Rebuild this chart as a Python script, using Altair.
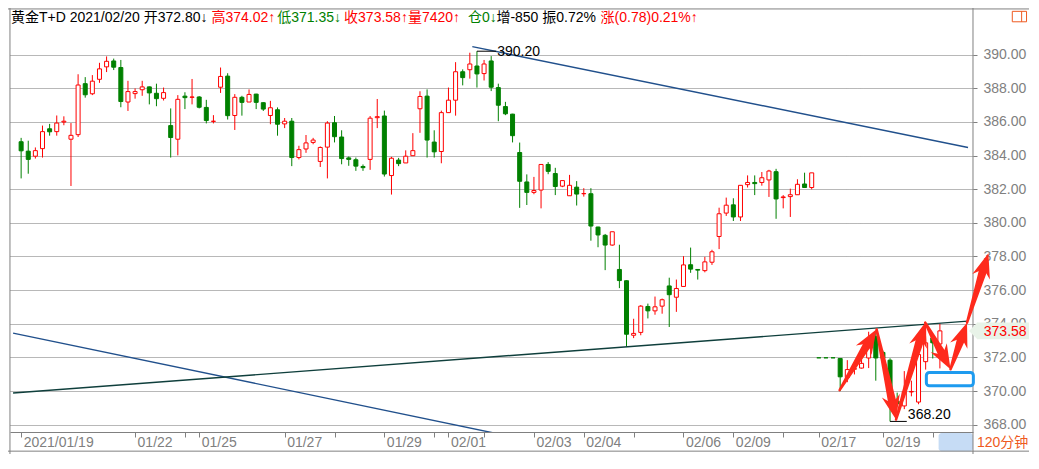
import math
import altair as alt
import pandas as pd
import numpy as np

# ---------------- data (120-minute candles, index 0..129) ----------------
opens = [384.82, 384.26, 383.96, 384.41, 385.59, 385.42, 385.99, 384.97, 385.24, 388.27,
         387.67, 388.53, 389.27, 389.62, 389.23, 387.18, 387.68, 387.91, 388.08, 387.70,
         387.40, 385.78, 384.97, 387.53, 387.46, 387.48, 386.86, 386.03, 388.06, 388.72,
         386.38, 387.46, 387.18, 387.65, 387.14, 386.38, 386.72, 385.88, 386.04, 383.88,
         384.39, 384.78, 383.65, 384.50, 385.95, 385.10, 383.86, 383.75, 383.35, 383.77,
         386.25, 386.35, 382.81, 383.73, 383.56, 383.99, 386.78, 387.53, 384.80, 384.24,
         386.55, 387.29, 388.98, 389.10, 389.32, 388.87, 389.62, 388.04, 386.91, 386.46,
         384.18, 382.43, 381.81, 381.95, 383.47, 382.93, 382.18, 381.61, 382.12, 381.73,
         381.73, 379.75, 379.26, 378.68, 377.23, 376.56, 373.32, 373.49, 375.03, 374.77,
         375.05, 376.25, 375.58, 376.22, 377.51, 377.23, 377.16, 377.66, 379.19, 380.58,
         381.07, 380.35, 382.27, 382.40, 382.40, 382.55, 383.04, 381.50, 381.56, 381.67,
         382.31, 382.10, 371.98, 371.98, 371.98, 371.94, 370.81, 371.30, 371.37, 371.97,
         373.25, 372.30, 371.84, 369.40, 369.12, 369.95, 369.35, 371.75, 373.16, 372.80]
highs = [385.05, 384.88, 384.48, 385.78, 385.88, 386.38, 386.33, 385.93, 388.83, 388.66,
         388.78, 389.51, 389.89, 389.76, 389.68, 388.44, 387.99, 388.44, 388.10, 388.27,
         388.04, 386.80, 387.59, 387.76, 388.55, 387.53, 387.31, 386.40, 389.23, 388.89,
         387.65, 387.55, 387.93, 387.67, 387.16, 387.25, 386.86, 386.23, 386.23, 384.58,
         385.22, 385.05, 384.54, 386.04, 386.35, 385.50, 383.94, 383.88, 383.47, 386.35,
         387.36, 386.67, 383.92, 383.86, 384.31, 385.33, 387.82, 387.93, 385.50, 386.67,
         388.04, 389.55, 389.12, 390.11, 390.20, 389.68, 389.91, 388.27, 387.19, 386.48,
         384.77, 382.88, 382.73, 383.47, 383.61, 383.27, 382.51, 382.85, 382.48, 382.06,
         382.06, 379.77, 379.34, 379.47, 378.70, 376.58, 374.30, 375.11, 375.20, 375.62,
         375.50, 376.74, 376.63, 378.02, 378.53, 377.25, 377.98, 378.40, 380.90, 381.50,
         381.46, 382.23, 382.82, 382.82, 383.02, 383.15, 383.21, 381.65, 382.03, 382.59,
         382.98, 382.97, 371.98, 371.98, 371.98, 371.94, 371.84, 371.47, 371.88, 373.53,
         373.55, 372.40, 371.95, 369.91, 371.19, 370.62, 372.50, 373.95, 373.30, 374.02]
lows = [382.64, 382.92, 383.82, 383.88, 385.18, 385.18, 385.80, 382.19, 385.10, 387.44,
        387.59, 388.32, 388.96, 389.08, 386.87, 386.65, 387.38, 387.55, 387.04, 386.93,
        387.27, 383.88, 384.01, 386.76, 387.04, 386.80, 385.91, 385.91, 387.72, 386.14,
        385.52, 386.37, 387.18, 386.76, 386.65, 385.86, 385.18, 385.63, 383.37, 383.77,
        384.16, 384.67, 383.32, 382.64, 384.78, 383.48, 383.39, 383.09, 383.09, 383.15,
        385.63, 382.75, 381.68, 383.37, 383.56, 383.99, 385.35, 383.88, 383.88, 383.54,
        386.55, 386.37, 388.17, 388.57, 388.04, 388.46, 387.83, 386.04, 386.40, 384.78,
        380.89, 381.06, 381.70, 380.86, 382.89, 381.65, 382.12, 381.61, 381.03, 381.56,
        378.94, 378.55, 377.19, 378.64, 376.12, 372.63, 373.15, 373.32, 374.32, 374.54,
        374.60, 373.81, 374.71, 376.22, 377.03, 376.63, 377.06, 377.50, 378.44, 380.41,
        380.11, 380.11, 382.10, 381.65, 382.21, 381.54, 380.24, 380.86, 380.35, 381.67,
        382.10, 381.99, 371.98, 371.98, 371.98, 370.00, 370.53, 370.99, 371.34, 371.37,
        370.62, 371.60, 368.20, 369.10, 368.93, 369.69, 369.22, 371.28, 371.94, 371.35]
closes = [384.28, 383.77, 384.29, 385.42, 385.41, 385.93, 386.04, 385.20, 388.19, 387.61,
          388.42, 389.15, 389.60, 389.25, 387.21, 387.80, 387.80, 388.08, 387.72, 387.38,
          387.74, 385.07, 387.34, 387.44, 387.48, 386.87, 386.08, 386.04, 388.70, 386.37,
          387.46, 387.16, 387.63, 387.16, 386.76, 386.84, 385.86, 386.04, 383.88, 384.35,
          384.75, 384.92, 384.48, 385.93, 385.12, 383.82, 383.77, 383.37, 383.28, 386.22,
          386.31, 382.90, 383.84, 383.52, 383.96, 384.29, 387.51, 384.92, 384.22, 386.55,
          387.29, 388.98, 388.63, 389.44, 388.85, 389.44, 388.06, 386.99, 386.48, 385.18,
          382.47, 381.81, 381.92, 383.47, 383.06, 382.16, 382.51, 382.23, 381.71, 381.74,
          379.81, 379.28, 378.68, 379.47, 376.57, 373.38, 373.43, 375.05, 374.77, 375.01,
          375.43, 375.73, 376.10, 377.50, 377.25, 377.19, 377.68, 378.28, 380.54, 381.05,
          380.35, 382.23, 382.40, 382.33, 382.68, 383.08, 381.42, 381.54, 381.67, 382.29,
          382.10, 382.97, 371.98, 371.98, 371.98, 370.85, 371.28, 371.34, 371.65, 372.59,
          371.97, 371.95, 369.70, 369.25, 369.97, 369.98, 372.18, 372.87, 372.87, 373.58]

x_tick_index = [0, 16, 23, 25, 37, 44, 51, 58, 60, 65, 72, 79, 86, 93, 100, 107, 112, 121, 128, 130]
x_tick_labels = ["2021/01/19", "01/22", "", "01/25", "01/27", "", "01/29", "", "02/01", "",
                 "02/03", "02/04", "", "02/06", "02/09", "", "02/17", "02/19", "", ""]
y_tick_values = [368, 370, 372, 374, 376, 378, 380, 382, 384, 386, 388, 390]

trend_upper_idx = [63.35, 132.95]
trend_upper_price = [390.47, 384.48]
trend_lower_idx = [-1.13, 66.18]
trend_lower_price = [373.45, 367.53]
trend_support_idx = [-1.13, 132.90]
trend_support_price = [369.89, 374.16]

arrow_idx = [114.92, 120.11, 122.84, 126.94, 130.49, 132.81, 135.81]
arrow_price = [370.06, 373.67, 368.31, 374.07, 371.30, 374.07, 378.19]

box_idx = [127.1, 133.7]
box_price = [370.32, 371.11]

high_mark_idx = [64.0, 66.7]
high_mark_value = 390.20
low_mark_idx = [122.0, 124.35]
low_mark_value = 368.20

header_parts = ["黄金T+D 2021/02/20 开372.80↓", "高374.02↑", "低371.35↓", "收373.58↑",
                "量7420↑", "仓0↓", "增-850 振0.72%", "涨(0.78)0.21%↑"]
period_label = "120分钟"

# ---------------- layout / style ----------------
FONT = "Liberation Sans, Arial, Noto Sans CJK SC, sans-serif"
RED = "#ff0000"
GREEN = "#008000"
GRAY = "#808080"
ARROW_RED = "#fe2a1c"
NAVY = "#21508c"
TEAL = "#0f3f3c"
ORANGE = "#ee5a20"

REF_W, REF_H = 1039, 469
TOT_W, TOT_H = 1021, 446
SX, SY = TOT_W / REF_W, TOT_H / REF_H
PL, PT = 2, 19
PLOT_W, PLOT_H = 963, 405
PR = TOT_W - PL - PLOT_W
PB = TOT_H - PT - PLOT_H

XMIN, XMAX = (2 - 8.3) / 7.324, (982 - 8.3) / 7.324
YMAX, YMIN = 390 + (49 - 20) / 17.70, 390 - (446 - 49) / 17.70

header_x = [3, 207, 274, 342, 407, 468, 497, 603]
header_colors = ["#000000", RED, GREEN, RED, RED, GREEN, "#000000", RED]


def px(xr):
    return xr * SX - PL


def py(yr):
    return yr * SY - PT


def X(i):
    return (i - XMIN) / (XMAX - XMIN) * PLOT_W


def Y(v):
    return (YMAX - v) / (YMAX - YMIN) * PLOT_H


def Xi(p):
    return XMIN + p / PLOT_W * (XMAX - XMIN)


def Yi(p):
    return YMAX - p / PLOT_H * (YMAX - YMIN)


xs = alt.Scale(domain=[XMIN, XMAX], nice=False, zero=False)
ys = alt.Scale(domain=[YMIN, YMAX], nice=False, zero=False)
one = pd.DataFrame({"d": [0]})

# ---------------- tables ----------------
df = pd.DataFrame({"i": np.arange(len(opens)), "open": opens, "high": highs,
                   "low": lows, "close": closes})
up = df["close"] > df["open"]
df["col"] = np.where(up, RED, GREEN)
df["fillc"] = np.where(up, "#ffffff", GREEN)

expr = "''"
for idx, lab in reversed(list(zip(x_tick_index, x_tick_labels))):
    expr = f"datum.value === {idx} ? '{lab}' : ({expr})"

x_axis = alt.Axis(values=x_tick_index, labelExpr=expr, title=None, grid=False,
                  domain=True, domainColor=GRAY, domainWidth=1,
                  ticks=True, tickColor=GRAY, tickSize=5, tickWidth=1,
                  labelColor=GRAY, labelFont=FONT, labelFontSize=14,
                  labelAlign="left", labelBaseline="middle", labelPadding=5.5,
                  labelOffset=2, labelOverlap=False, labelFlush=False,
                  labelBound=False, zindex=0)
y_axis = alt.Axis(orient="right", values=y_tick_values, format=".2f", title=None,
                  grid=True, gridColor="#707070", gridDash=[1, 1], gridWidth=1,
                  domain=False, ticks=True, tickColor=GRAY, tickSize=4,
                  labelColor=GRAY, labelFont=FONT, labelFontSize=14,
                  labelAlign="left", labelBaseline="middle", labelPadding=6,
                  labelOverlap=False, labelFlush=False, labelBound=False, zindex=0)


def XE(field):
    return alt.X(field, scale=xs, axis=x_axis)


def YE(field):
    return alt.Y(field, scale=ys, axis=y_axis)


layers = []

# x-axis strip highlight
layers.append(alt.Chart(one).mark_rect(fill="#c6dcf5", cornerRadius=3).encode(
    x=alt.value(px(947)), x2=alt.value(px(982)), y=alt.value(py(447)), y2=alt.value(py(466))))

# frame lines
for xr in [2, 982]:
    layers.append(alt.Chart(one).mark_rule(color=GRAY, strokeWidth=1).encode(
        x=alt.value(px(xr)), y=alt.value(py(0)), y2=alt.value(py(469))))
for yy in [1, 466]:
    layers.append(alt.Chart(one).mark_rule(color=GRAY, strokeWidth=1).encode(
        x=alt.value(px(0)), x2=alt.value(px(1039)), y=alt.value(py(yy))))

# candles
base = alt.Chart(df)
layers.append(base.mark_rule(strokeWidth=1).encode(
    x=XE("i:Q"), y=YE("low:Q"), y2="high:Q",
    color=alt.Color("col:N", scale=None)))
layers.append(base.mark_bar(size=4, strokeWidth=1, orient="vertical").encode(
    x=XE("i:Q"), y=YE("open:Q"), y2="close:Q",
    fill=alt.Fill("fillc:N", scale=None),
    stroke=alt.Stroke("col:N", scale=None)))

# trend lines
for ix, pr, colr in [(trend_upper_idx, trend_upper_price, NAVY),
                     (trend_lower_idx, trend_lower_price, NAVY),
                     (trend_support_idx, trend_support_price, TEAL)]:
    tdf = pd.DataFrame({"i": ix, "v": pr})
    layers.append(alt.Chart(tdf).mark_line(color=colr, strokeWidth=1.4, clip=True).encode(
        x=XE("i:Q"), y=YE("v:Q")))

# high / low markers
for ix, val, dy, base_ in [(high_mark_idx, high_mark_value, 1, "middle"),
                           (low_mark_idx, low_mark_value, -2, "alphabetic")]:
    mdf = pd.DataFrame({"i": [ix[0]], "i2": [ix[1]], "v": [val]})
    layers.append(alt.Chart(mdf).mark_rule(color="#000000", strokeWidth=1).encode(
        x=XE("i:Q"), x2="i2:Q", y=YE("v:Q")))
    tdf = pd.DataFrame({"i": [ix[1] + 0.15], "v": [val], "t": [f"{val:.2f}"]})
    layers.append(alt.Chart(tdf).mark_text(align="left", baseline=base_, dy=dy, font=FONT,
                                           fontSize=14, color="#000000").encode(
        x=XE("i:Q"), y=YE("v:Q"), text="t:N"))

# blue box annotation
bdf = pd.DataFrame({"i": [box_idx[0]], "i2": [box_idx[1]], "v": [box_price[0]], "v2": [box_price[1]]})
layers.append(alt.Chart(bdf).mark_rect(fillOpacity=0, stroke="#1e9bef", strokeWidth=3,
                                       cornerRadius=3, clip=False).encode(
    x=XE("i:Q"), x2="i2:Q", y=YE("v:Q"), y2="v2:Q"))

# arrows
trail_rows, head_rows = [], []
for k in range(len(arrow_idx) - 1):
    tx, ty = X(arrow_idx[k]), Y(arrow_price[k])
    ex, ey = X(arrow_idx[k + 1]), Y(arrow_price[k + 1])
    dx, dy = ex - tx, ey - ty
    ln = math.hypot(dx, dy)
    ux, uy = dx / ln, dy / ln
    sx_, sy_ = ex - 16 * ux, ey - 16 * uy
    trail_rows.append({"k": k, "o": 0, "i": arrow_idx[k], "v": arrow_price[k], "w": 2.5})
    trail_rows.append({"k": k, "o": 1, "i": Xi(sx_), "v": Yi(sy_), "w": 8.5})
    ang = math.degrees(math.atan2(dx, -dy)) % 360
    head_rows.append({"i": arrow_idx[k + 1], "v": arrow_price[k + 1], "a": ang})
trail_df = pd.DataFrame(trail_rows)
head_df = pd.DataFrame(head_rows)
layers.append(alt.Chart(trail_df).mark_trail(color=ARROW_RED, clip=False).encode(
    x=XE("i:Q"), y=YE("v:Q"),
    size=alt.Size("w:Q", scale=None, legend=None), detail="k:N", order="o:Q"))
HEAD = "M0,0L0.75,2.0L0.3,1.6L-0.3,1.6L-0.75,2.0Z"
layers.append(alt.Chart(head_df).mark_point(shape=HEAD, size=600, filled=True, fill=ARROW_RED,
                                            strokeWidth=0, opacity=1, clip=False).encode(
    x=XE("i:Q"), y=YE("v:Q"), angle=alt.Angle("a:Q", scale=None)))

# current price tag on the right axis
pdf = pd.DataFrame({"v": [closes[-1] + 0.5], "v2": [closes[-1] - 0.5], "c": [closes[-1]],
                    "t": [f"{closes[-1]:.2f}"]})
layers.append(alt.Chart(pdf).mark_rect(fill="#e8f3e8").encode(
    x=alt.value(px(986)), x2=alt.value(px(1039)), y=YE("v:Q"), y2="v2:Q"))
layers.append(alt.Chart(pdf).mark_point(shape="M0,-1L-1,0L0,1Z", size=282, filled=True,
                                        fill="#e8f3e8", strokeWidth=0, opacity=1).encode(
    x=alt.value(px(986) + 0.5), y=YE("c:Q")))
layers.append(alt.Chart(pdf).mark_text(align="left", baseline="middle", dy=1, font=FONT,
                                       fontSize=14, color=RED).encode(
    x=alt.value(px(993)), y=YE("c:Q"), text="t:N"))

# header
for txt, xr, colr in zip(header_parts, header_x, header_colors):
    layers.append(alt.Chart(one).mark_text(align="left", baseline="middle", font=FONT,
                                           fontSize=14, color=colr).encode(
        x=alt.value(px(xr)), y=alt.value(py(10.5)), text=alt.value(txt)))

# period label
layers.append(alt.Chart(one).mark_text(align="left", baseline="middle", font=FONT,
                                       fontSize=14, color=ORANGE).encode(
    x=alt.value(px(986)), y=alt.value(py(457.5)), text=alt.value(period_label)))

# small icon at top right
layers.append(alt.Chart(one).mark_rect(fillOpacity=0, stroke=ORANGE, strokeWidth=1).encode(
    x=alt.value(px(1022)), x2=alt.value(px(1036.5)), y=alt.value(py(3.5)), y2=alt.value(py(14.5))))
layers.append(alt.Chart(one).mark_rule(color=ORANGE, strokeWidth=1).encode(
    x=alt.value(px(1031.5)), y=alt.value(py(3.5)), y2=alt.value(py(14.5))))

chart = alt.layer(*layers).properties(
    width=PLOT_W, height=PLOT_H,
    padding={"left": PL, "top": PT, "right": PR, "bottom": PB},
    autosize=alt.AutoSizeParams(type="none"),
    background="white",
).configure_view(stroke=None)

chart.save("out.html", embed_options={"renderer": "svg", "actions": False})
